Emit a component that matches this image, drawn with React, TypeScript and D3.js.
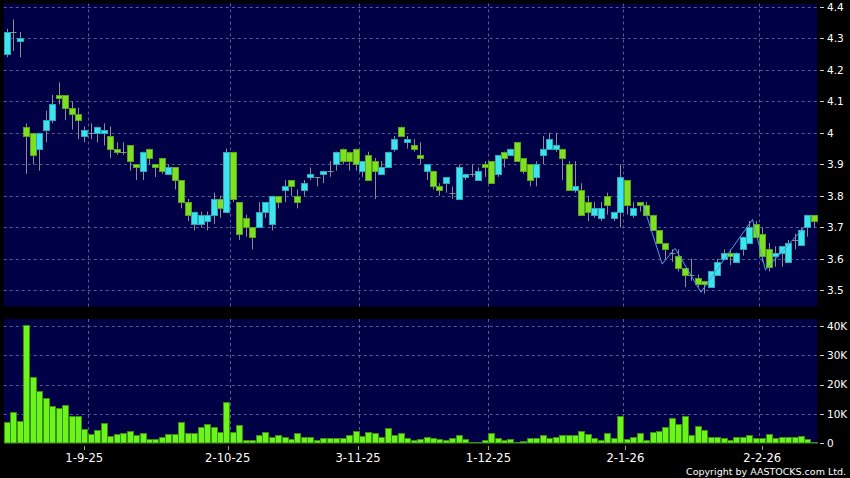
import React from "react";
import * as d3 from "d3";

// ---- Data ----
const opens = [
  4.25, 4.32, 4.29, 4.02, 4.0, 3.95, 4.01, 4.04, 4.12, 4.12,
  4.08, 4.06, 3.99, 4.0, 4.0, 4.0, 3.99, 3.95, 3.94, 3.96,
  3.9, 3.88, 3.95, 3.9, 3.92, 3.87, 3.89, 3.85, 3.78, 3.71,
  3.71, 3.72, 3.74, 3.79, 3.75, 3.94, 3.78, 3.73, 3.7, 3.7,
  3.75, 3.71, 3.8, 3.82, 3.85, 3.8, 3.82, 3.86, 3.86, 3.87,
  3.88, 3.9, 3.95, 3.94, 3.95, 3.88, 3.93, 3.91, 3.87, 3.89,
  3.95, 4.02, 3.97, 3.96, 3.93, 3.88, 3.88, 3.83, 3.84, 3.81,
  3.79, 3.86, 3.87, 3.85, 3.9, 3.91, 3.87, 3.94, 3.93, 3.97,
  3.92, 3.9, 3.86, 3.93, 3.95, 3.95, 3.95, 3.9, 3.82, 3.82,
  3.78, 3.74, 3.73, 3.8, 3.73, 3.75, 3.85, 3.74, 3.78, 3.77,
  3.74, 3.69, 3.65, 3.62, 3.61, 3.57, 3.55, 3.54, 3.53, 3.51,
  3.55, 3.6, 3.62, 3.59, 3.63, 3.65, 3.71, 3.68, 3.63, 3.61,
  3.62, 3.59, 3.66, 3.645, 3.7, 3.74,
];
const highs = [
  4.33, 4.36, 4.32, 4.03, 4.0, 4.0, 4.07, 4.12, 4.16, 4.12,
  4.1, 4.08, 4.02, 4.03, 4.02, 4.03, 4.02, 3.97, 3.97, 3.96,
  3.9, 3.94, 3.95, 3.9, 3.92, 3.9, 3.89, 3.85, 3.79, 3.75,
  3.75, 3.75, 3.81, 3.8, 3.95, 3.94, 3.78, 3.74, 3.7, 3.78,
  3.78, 3.8, 3.8, 3.85, 3.85, 3.82, 3.85, 3.89, 3.86, 3.88,
  3.91, 3.94, 3.95, 3.94, 3.95, 3.91, 3.94, 3.92, 3.91, 3.94,
  3.99, 4.02, 3.99, 3.98, 3.97, 3.9, 3.88, 3.84, 3.86, 3.83,
  3.9, 3.87, 3.9, 3.89, 3.91, 3.91, 3.93, 3.94, 3.95, 3.97,
  3.92, 3.9, 3.91, 3.99, 4.0, 4.0, 3.95, 3.91, 3.91, 3.84,
  3.8, 3.78, 3.78, 3.81, 3.75, 3.9, 3.85, 3.78, 3.78, 3.78,
  3.74, 3.69, 3.65, 3.63, 3.63, 3.57, 3.6, 3.55, 3.53, 3.56,
  3.6, 3.63, 3.63, 3.62, 3.67, 3.72, 3.72, 3.7, 3.65, 3.64,
  3.64, 3.66, 3.68, 3.7, 3.74, 3.74,
];
const lows = [
  4.24, 4.26, 4.24, 3.87, 3.9, 3.88, 3.97, 4.03, 4.09, 4.04,
  4.01, 3.98, 3.97, 3.98, 3.97, 3.96, 3.92, 3.93, 3.93, 3.88,
  3.85, 3.85, 3.9, 3.86, 3.87, 3.87, 3.82, 3.76, 3.72, 3.69,
  3.7, 3.69, 3.71, 3.73, 3.75, 3.78, 3.66, 3.67, 3.63, 3.7,
  3.73, 3.69, 3.76, 3.78, 3.8, 3.76, 3.8, 3.85, 3.83, 3.84,
  3.86, 3.88, 3.9, 3.88, 3.88, 3.86, 3.85, 3.79, 3.87, 3.89,
  3.94, 3.99, 3.95, 3.94, 3.9, 3.85, 3.82, 3.8, 3.81, 3.79,
  3.79, 3.85, 3.86, 3.85, 3.86, 3.84, 3.86, 3.89, 3.93, 3.91,
  3.87, 3.83, 3.83, 3.9, 3.95, 3.94, 3.85, 3.82, 3.81, 3.74,
  3.72, 3.73, 3.72, 3.74, 3.72, 3.7, 3.74, 3.73, 3.75, 3.74,
  3.69, 3.65, 3.6, 3.59, 3.56, 3.51, 3.53, 3.51, 3.49, 3.51,
  3.55, 3.6, 3.58, 3.59, 3.61, 3.65, 3.67, 3.59, 3.56, 3.575,
  3.575, 3.59, 3.63, 3.645, 3.67, 3.7,
];
const closes = [
  4.32, 4.32, 4.3, 3.99, 3.93, 4.0, 4.04, 4.09, 4.11, 4.08,
  4.06, 4.04, 4.01, 4.0, 4.02, 4.01, 3.95, 3.94, 3.94, 3.91,
  3.89, 3.94, 3.92, 3.89, 3.88, 3.89, 3.85, 3.78, 3.74, 3.75,
  3.74, 3.74, 3.79, 3.76, 3.94, 3.79, 3.68, 3.7, 3.67, 3.75,
  3.78, 3.8, 3.78, 3.83, 3.83, 3.78, 3.84, 3.87, 3.86, 3.88,
  3.88, 3.94, 3.91, 3.91, 3.9, 3.91, 3.85, 3.88, 3.89, 3.94,
  3.98, 3.99, 3.98, 3.95, 3.92, 3.9, 3.83, 3.82, 3.86, 3.81,
  3.89, 3.87, 3.87, 3.88, 3.89, 3.84, 3.93, 3.92, 3.95, 3.91,
  3.88, 3.85, 3.9, 3.95, 3.98, 3.96, 3.92, 3.82, 3.83, 3.74,
  3.75, 3.76, 3.76, 3.77, 3.75, 3.86, 3.77, 3.76, 3.77, 3.74,
  3.69, 3.65, 3.63, 3.62, 3.57, 3.55, 3.55, 3.52, 3.52, 3.56,
  3.59, 3.62, 3.61, 3.62, 3.67, 3.7, 3.67, 3.61, 3.575, 3.62,
  3.64, 3.65, 3.66, 3.69, 3.74, 3.72,
];
// volume in shares
const volumes = [
  7400, 10600, 7700, 40300, 22500, 17800, 15500, 12700, 12200, 13200,
  9200, 9200, 4900, 3100, 4400, 6800, 2500, 3200, 3600, 4200,
  2800, 3600, 1600, 1600, 2300, 3100, 3100, 7200, 3400, 3400,
  5500, 6600, 5500, 3900, 14100, 3900, 6300, 1000, 1100, 2800,
  3800, 2300, 2800, 2300, 1400, 3400, 2300, 2300, 1000, 1700,
  1700, 1800, 1700, 2700, 4200, 2500, 4000, 3400, 2300, 5100,
  2800, 3400, 1700, 1100, 1600, 2300, 1900, 1400, 1100, 1700,
  2800, 1600, 500, 500, 1100, 3400, 1700, 1000, 1500, 600,
  800, 1900, 1700, 3000, 1800, 2300, 2700, 3000, 2800, 4200,
  3200, 1700, 1100, 3400, 1700, 9400, 1400, 2000, 3400, 1100,
  4000, 4300, 5700, 8600, 6600, 9300, 3000, 6000, 4500, 2000,
  2000, 1900, 1100, 2300, 2300, 2800, 1700, 1700, 3100, 1900,
  2000, 2000, 2300, 2500, 1400, 300,
];
// zig-zag indicator line (index, price)
const zigIndex = [98.5, 101.5, 103.5, 107.5, 115.5, 117.5, 123.5];
const zigValue = [3.775, 3.583, 3.633, 3.494, 3.725, 3.564, 3.7];

const priceTicks = [3.5, 3.6, 3.7, 3.8, 3.9, 4.0, 4.1, 4.2, 4.3, 4.4];
const volumeTicks = [0, 10000, 20000, 30000, 40000];
const volumeTickLabels = ["0", "10K", "20K", "30K", "40K"];
const dateLabels = ["1-9-25", "2-10-25", "3-11-25", "1-12-25", "2-1-26", "2-2-26"];
const dateIndex = [13, 35, 55, 75, 96, 117]; // first trading day of each month

const FONT = "'DejaVu Sans', Verdana, sans-serif";
const NAVY = "#000046";
const GRID = "#5a5a94";
const UP_FILL = "#3fe3ee";
const UP_STROKE = "#27aab8";
const DN_FILL = "#7fdf22";
const DN_STROKE = "#5aa61a";
const WICK = "#8e8e8e";

export default function App() {
  const W = 850;
  const H = 478;
  const N = opens.length;

  const x = d3.scaleLinear().domain([0, N - 1]).range([7, 7 + 6.455 * (N - 1)]);
  const labelX = d3.scaleLinear().domain([0, N]).range([-0.45, -0.45 + 6.519 * N]);
  const yP = d3.scaleLinear().domain([3.5, 4.4]).range([290.3, 6.8]);
  const yV = d3.scaleLinear().domain([0, 40000]).range([443.3, 326.1]);

  const left = x(-0.5);
  const right = x(N - 0.5);
  const pTop = 3.5;
  const pBot = 306.5;
  const vTop = 319;
  const vBot = 443.5;

  const px = (v: number) => Math.round(v) + 0.5;

  const zig = d3
    .line<number>()
    .x((_, k) => x(zigIndex[k]))
    .y((d) => yP(d));

  return (
    <div style={{ position: "absolute", left: 0, top: 0, width: W, height: H }}>
      <svg width={W} height={H} style={{ display: "block" }} fontFamily={FONT}>
        <rect x={0} y={0} width={W} height={H} fill="#000" />
        {/* panels */}
        <rect x={left} y={pTop} width={right - left} height={pBot - pTop} fill={NAVY} />
        <rect x={left} y={vTop} width={right - left} height={vBot - vTop} fill={NAVY} />

        {/* horizontal grid - price */}
        {priceTicks.map((t) => (
          <line key={"pg" + t} x1={left} x2={right} y1={px(yP(t))} y2={px(yP(t))}
            stroke={GRID} strokeWidth={1} strokeDasharray="3,3" />
        ))}
        {/* horizontal grid - volume */}
        {volumeTicks.slice(1).map((t) => (
          <line key={"vg" + t} x1={left} x2={right} y1={px(yV(t))} y2={px(yV(t))}
            stroke={GRID} strokeWidth={1} strokeDasharray="3,3" />
        ))}
        {/* vertical grid at month boundaries */}
        {dateIndex.map((d) => (
          <g key={"vgl" + d}>
            <line x1={px(x(d - 0.5))} x2={px(x(d - 0.5))} y1={pTop} y2={pBot}
              stroke={GRID} strokeWidth={1} strokeDasharray="3,3" />
            <line x1={px(x(d - 0.5))} x2={px(x(d - 0.5))} y1={vTop} y2={vBot}
              stroke={GRID} strokeWidth={1} strokeDasharray="3,3" />
          </g>
        ))}

        {/* candles */}
        {opens.map((o, i) => {
          const c = closes[i];
          const cx = Math.round(x(i));
          const wx = cx + 0.5;
          const hi = yP(highs[i]);
          const lo = yP(lows[i]);
          const up = c > o;
          const dn = c < o;
          const top = Math.round(yP(Math.max(o, c))) + 0.5;
          const bot = Math.round(yP(Math.min(o, c))) + 0.5;
          return (
            <g key={"c" + i}>
              <line x1={wx} x2={wx} y1={hi} y2={lo} stroke={WICK} strokeWidth={1} />
              {up || dn ? (
                <rect x={cx - 2.5} y={top} width={6} height={Math.max(1, bot - top)}
                  fill={up ? UP_FILL : DN_FILL} stroke={up ? UP_STROKE : DN_STROKE} strokeWidth={1} />
              ) : (
                <line x1={cx - 2.5} x2={cx + 3.5} y1={top} y2={top} stroke={WICK} strokeWidth={1} />
              )}
            </g>
          );
        })}

        {/* zigzag line */}
        <path d={zig(zigValue) || ""} fill="none" stroke="#4f9fe2" strokeWidth={1} />

        {/* volume bars */}
        {volumes.map((v, i) => {
          const cx = Math.round(x(i));
          const top = Math.round(yV(v)) + 0.5;
          return (
            <rect key={"v" + i} x={cx - 2.5} y={top} width={6} height={Math.max(0.5, 443 - top)}
              fill="#6cf51c" stroke="#3a8f10" strokeWidth={1} />
          );
        })}

        {/* right axis - price */}
        {priceTicks.map((t) => (
          <g key={"pl" + t}>
            <line x1={820} x2={824} y1={px(yP(t))} y2={px(yP(t))} stroke="#cfcfcf" strokeWidth={1} />
            <text x={827} y={yP(t)} dy="0.36em" fill="#fff" fontSize={10.5}>
              {d3.format(".1f")(t).replace(/\.0$/, "")}
            </text>
          </g>
        ))}
        {/* right axis - volume */}
        {volumeTicks.map((t, k) => (
          <g key={"vl" + t}>
            <line x1={820} x2={824} y1={px(yV(t))} y2={px(yV(t))} stroke="#cfcfcf" strokeWidth={1} />
            <text x={827} y={yV(t)} dy="0.36em" fill="#fff" fontSize={10.5}>
              {volumeTickLabels[k]}
            </text>
          </g>
        ))}

        {/* bottom date axis */}
        {dateLabels.map((lab, k) => {
          const lx = labelX(dateIndex[k]);
          return (
            <g key={"d" + lab}>
              <line x1={px(lx)} x2={px(lx)} y1={446} y2={450} stroke="#a0a0a0" strokeWidth={1} />
              <text x={lx} y={462} textAnchor="middle" fill="#fff" fontSize={11.6}>
                {lab}
              </text>
            </g>
          );
        })}

        <text x={846} y={474.5} textAnchor="end" fill="#fff" fontSize={9.5}>
          Copyright by AASTOCKS.com Ltd.
        </text>
      </svg>
    </div>
  );
}
